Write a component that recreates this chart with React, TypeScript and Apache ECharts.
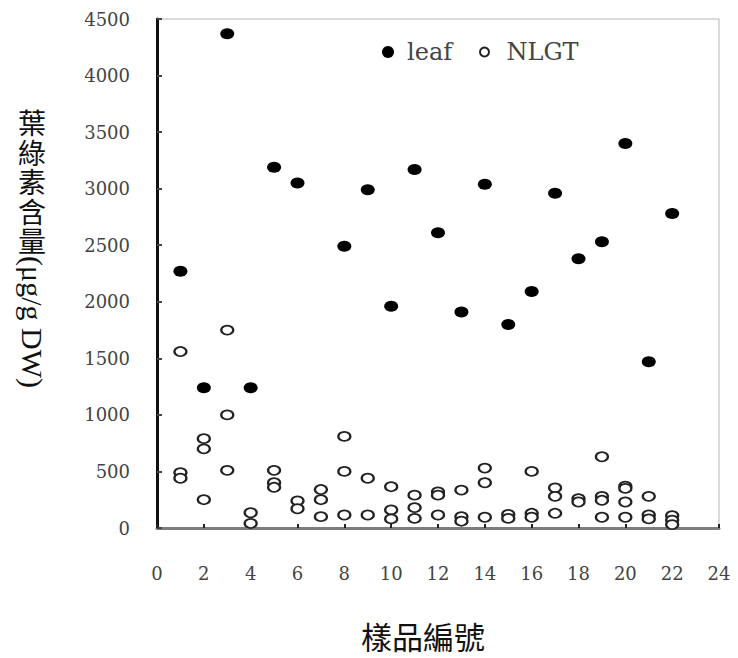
import React, { useEffect, useRef } from "react";
import * as echarts from "echarts";

// Leaf (filled markers)
const leafSamples = [1, 2, 3, 4, 5, 6, 8, 9, 10, 11, 12, 13, 14, 15, 16, 17, 18, 19, 20, 21, 22];
const leafValues = [2270, 1240, 4370, 1240, 3190, 3050, 2490, 2990, 1960, 3170, 2610, 1910, 3040, 1800, 2090, 2960, 2380, 2530, 3400, 1470, 2780];

// NLGT (open markers), several replicates per sample
const nlgtSamples = [
  1, 1, 1,
  2, 2, 2,
  3, 3, 3,
  4, 4,
  5, 5, 5,
  6, 6,
  7, 7, 7,
  8, 8, 8,
  9, 9,
  10, 10, 10,
  11, 11, 11,
  12, 12, 12,
  13, 13, 13,
  14, 14, 14,
  15, 15,
  16, 16, 16,
  17, 17, 17,
  18, 18,
  19, 19, 19, 19,
  20, 20, 20, 20,
  21, 21, 21,
  22, 22, 22,
];
const nlgtValues = [
  1560, 490, 440,
  790, 700, 250,
  1750, 1000, 510,
  135, 40,
  510, 400, 360,
  240, 170,
  340, 250, 100,
  810, 500, 115,
  440, 115,
  365, 160, 80,
  290, 180, 85,
  320, 290, 115,
  335, 100, 60,
  530, 400, 95,
  120, 85,
  500, 130, 95,
  355, 280, 130,
  260, 230,
  630, 280, 245, 95,
  370, 350, 230, 95,
  280, 115, 80,
  110, 70, 30,
];

const seriesNames = ["leaf", "NLGT"];
const xAxisTitle = "樣品編號";
const yAxisTitleCJK = "葉綠素含量";
const yAxisTitleUnit = "(μg/g DW)";

export default function App() {
  const ref = useRef<HTMLDivElement>(null);

  useEffect(() => {
    if (!ref.current) return;
    const chart = echarts.init(ref.current, undefined, { renderer: "svg" });

    const tickFont = { fontFamily: "DejaVu Serif", fontSize: 18, color: "#444" };
    const legendText = { fontFamily: "DejaVu Serif", fontSize: 24, color: "#444" };

    const cjkChars = yAxisTitleCJK.split("").map((ch, i) => ({
      type: "text",
      x: 32,
      y: 122 + i * 29.5,
      style: {
        text: ch,
        font: '28px "Noto Sans CJK TC"',
        align: "center",
        textAlign: "center",
        verticalAlign: "middle",
        textVerticalAlign: "middle",
        fill: "#111",
      },
    }));

    chart.setOption({
      animation: false,
      backgroundColor: "#fff",
      grid: {
        left: 157,
        right: 19,
        top: 19,
        bottom: 130,
        show: true,
        borderColor: "#b5b5b5",
        borderWidth: 1,
      },
      legend: [
        {
          data: [seriesNames[0]],
          left: 377,
          top: 35,
          itemWidth: 14,
          itemHeight: 12,
          textStyle: { ...legendText, padding: [0, 0, 0, 7] },
        },
        {
          data: [seriesNames[1]],
          left: 474,
          top: 35,
          itemWidth: 10,
          itemHeight: 9,
          textStyle: { ...legendText, padding: [0, 0, 0, 12] },
        },
      ],
      xAxis: {
        type: "value",
        min: 0,
        max: 24,
        interval: 2,
        name: xAxisTitle,
        nameLocation: "middle",
        nameGap: 92,
        nameTextStyle: {
          fontFamily: "Noto Sans CJK TC",
          fontSize: 31,
          color: "#111",
          padding: [0, 30, 0, 0],
        },
        axisLine: { show: true, onZero: false, lineStyle: { color: "#7d7d7d", width: 3 } },
        axisTick: { show: true, inside: true, length: 4, lineStyle: { color: "#222", width: 2 } },
        splitLine: { show: false },
        axisLabel: { ...tickFont, margin: 36 },
      },
      yAxis: {
        type: "value",
        min: 0,
        max: 4500,
        interval: 500,
        axisLine: { show: true, onZero: false, lineStyle: { color: "#111", width: 3 } },
        axisTick: { show: true, inside: true, length: 5, lineStyle: { color: "#444", width: 2 } },
        splitLine: { show: false },
        axisLabel: { ...tickFont, margin: 27, formatter: (v: number) => String(v) },
      },
      graphic: [
        ...cjkChars,
        {
          type: "text",
          x: 32,
          y: 322,
          rotation: -Math.PI / 2,
          style: {
            text: yAxisTitleUnit,
            font: '30px "Liberation Serif"',
            align: "center",
            textAlign: "center",
            verticalAlign: "middle",
            textVerticalAlign: "middle",
            fill: "#111",
          },
        },
      ],
      series: [
        {
          name: seriesNames[0],
          type: "scatter",
          symbol: "circle",
          symbolSize: [14, 11],
          itemStyle: { color: "#000", borderColor: "#000", borderWidth: 0, opacity: 1 },
          data: leafSamples.map((s, i) => [s, leafValues[i]]),
          z: 3,
        },
        {
          name: seriesNames[1],
          type: "scatter",
          symbol: "circle",
          symbolSize: [12, 9],
          itemStyle: { color: "#fff", borderColor: "#222", borderWidth: 2, opacity: 1 },
          data: nlgtSamples.map((s, i) => [s, nlgtValues[i]]),
          z: 2,
        },
      ],
    });

    return () => chart.dispose();
  }, []);

  return (
    <div
      ref={ref}
      style={{ position: "absolute", left: 0, top: 0, width: 738, height: 658, background: "#fff" }}
    />
  );
}
